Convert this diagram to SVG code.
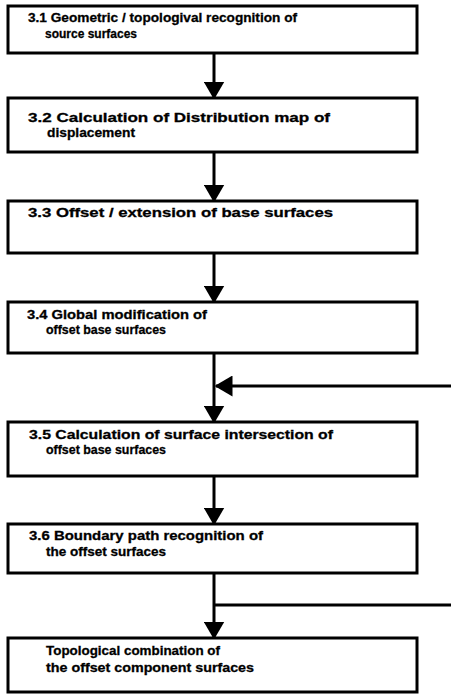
<svg xmlns="http://www.w3.org/2000/svg" width="451" height="696" viewBox="0 0 451 696">
<style>
.box{fill:#fff;stroke:#000;stroke-width:3}
.ln{stroke:#000;stroke-width:3;fill:none}
text{font-family:"Liberation Sans",Arial,sans-serif;font-weight:bold;font-size:13px;fill:#000;stroke:#000;stroke-width:0.3}
</style>
<defs>
<marker id="ah" markerWidth="6" markerHeight="7" refX="5.5" refY="3.5" orient="auto" markerUnits="strokeWidth">
<path d="M0,0 L6,3.5 L0,7 Z" fill="#000"/>
</marker>
</defs>
<rect width="451" height="696" fill="#fff"/>
<g id="connectors">
<line class="ln" x1="214" y1="53" x2="214" y2="98" marker-end="url(#ah)"/>
<line class="ln" x1="214" y1="152" x2="214" y2="201" marker-end="url(#ah)"/>
<line class="ln" x1="214" y1="253" x2="214" y2="302" marker-end="url(#ah)"/>
<line class="ln" x1="214" y1="353" x2="214" y2="422" marker-end="url(#ah)"/>
<line class="ln" x1="451" y1="386" x2="216" y2="386" marker-end="url(#ah)"/>
<line class="ln" x1="214" y1="476" x2="214" y2="524" marker-end="url(#ah)"/>
<line class="ln" x1="214" y1="573" x2="214" y2="638" marker-end="url(#ah)"/>
<line class="ln" x1="214" y1="605" x2="451" y2="605"/>
</g>
<g id="n1"><rect class="box" x="8" y="6" width="409" height="47"/>
<text x="28" y="22" textLength="269" lengthAdjust="spacingAndGlyphs">3.1 Geometric / topologival recognition of</text>
<text x="45" y="38" textLength="92" lengthAdjust="spacingAndGlyphs">source surfaces</text></g>
<g id="n2"><rect class="box" x="8" y="98" width="409" height="54"/>
<text x="28" y="122" textLength="302" lengthAdjust="spacingAndGlyphs">3.2 Calculation of Distribution map of</text>
<text x="47" y="137" textLength="88" lengthAdjust="spacingAndGlyphs">displacement</text></g>
<g id="n3"><rect class="box" x="8" y="201" width="409" height="52"/>
<text x="28" y="217" textLength="305" lengthAdjust="spacingAndGlyphs">3.3 Offset / extension of base surfaces</text></g>
<g id="n4"><rect class="box" x="8" y="302" width="409" height="51"/>
<text x="27" y="319" textLength="180" lengthAdjust="spacingAndGlyphs">3.4 Global modification of</text>
<text x="46" y="334" textLength="120" lengthAdjust="spacingAndGlyphs">offset base surfaces</text></g>
<g id="n5"><rect class="box" x="8" y="422" width="409" height="54"/>
<text x="29" y="439" textLength="304" lengthAdjust="spacingAndGlyphs">3.5 Calculation of surface intersection  of</text>
<text x="46" y="454" textLength="120" lengthAdjust="spacingAndGlyphs">offset base surfaces</text></g>
<g id="n6"><rect class="box" x="8" y="524" width="409" height="49"/>
<text x="29" y="540" textLength="234" lengthAdjust="spacingAndGlyphs">3.6 Boundary path recognition of</text>
<text x="46" y="556" textLength="120" lengthAdjust="spacingAndGlyphs">the offset surfaces</text></g>
<g id="n7"><rect class="box" x="8" y="638" width="409" height="54"/>
<text x="46" y="655" textLength="174" lengthAdjust="spacingAndGlyphs">Topological combination of</text>
<text x="46" y="672" textLength="208" lengthAdjust="spacingAndGlyphs">the offset component surfaces</text></g>
</svg>
